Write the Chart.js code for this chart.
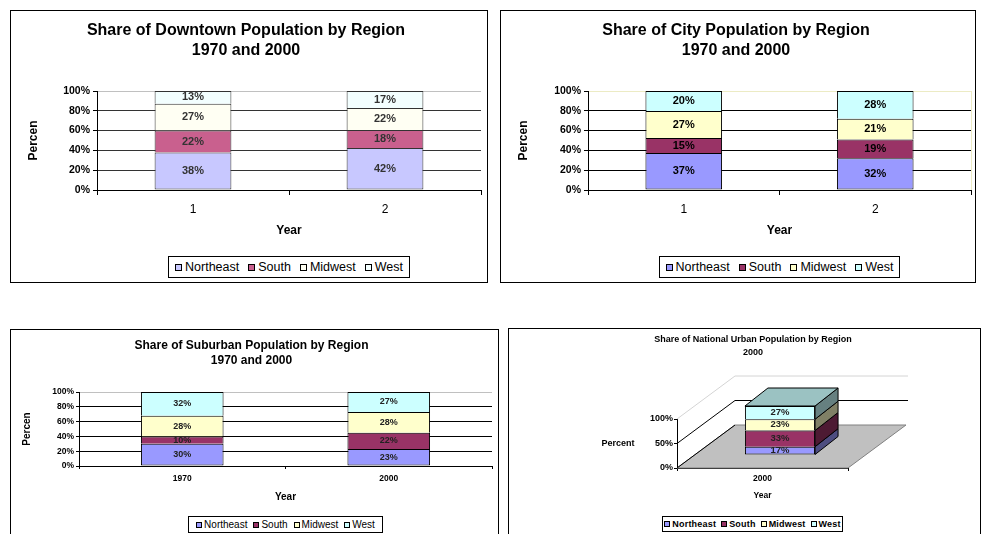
<!DOCTYPE html>
<html>
<head>
<meta charset="utf-8">
<script src="https://cdn.jsdelivr.net/npm/chart.js@4.4.0/dist/chart.umd.min.js"></script>
<style>
body{margin:0;background:#fff;width:983px;height:534px;overflow:hidden;position:relative;font-family:'Liberation Sans',Arial,sans-serif}
.box{position:absolute;border:1px solid #000;background:#fff;overflow:hidden}
.box canvas{position:absolute;left:0;top:0}
.legend{position:absolute;border:1px solid #000;display:flex;align-items:center;justify-content:center;white-space:nowrap;box-sizing:border-box;color:#000;background:#fff}
.legend i{display:inline-block;border:1px solid #000;box-sizing:border-box}
</style>
</head>
<body>
<div class="box" id="b1" style="left:10px;top:10px;width:476px;height:271px"><canvas id="c1" width="476" height="271"></canvas></div>
<div class="box" id="b2" style="left:500px;top:10px;width:474px;height:271px"><canvas id="c2" width="474" height="271"></canvas></div>
<div class="box" id="b3" style="left:10px;top:329px;width:487px;height:213px"><canvas id="c3" width="487" height="213"></canvas></div>
<div class="box" id="b4" style="left:508px;top:328px;width:471px;height:213px"><canvas id="c4" width="471" height="213"></canvas></div>
<script>
const regions = ["Northeast", "South", "Midwest", "West"];

const downtownYears = ["1", "2"];
const downtownNortheast = [38, 42];
const downtownSouth = [22, 18];
const downtownMidwest = [27, 22];
const downtownWest = [13, 17];

const cityYears = ["1", "2"];
const cityNortheast = [37, 32];
const citySouth = [15, 19];
const cityMidwest = [27, 21];
const cityWest = [20, 28];

const suburbYears = ["1970", "2000"];
const suburbNortheast = [30, 23];
const suburbSouth = [10, 22];
const suburbMidwest = [28, 28];
const suburbWest = [32, 27];

const urbanYears = ["2000"];
const urbanNortheast = [17];
const urbanSouth = [33];
const urbanMidwest = [23];
const urbanWest = [27];

const paleColors = ["#C8C8FF", "#C9608E", "#FFFFF3", "#F3FFFF"];
const excelColors = ["#9999FF", "#993366", "#FFFFCC", "#CCFFFF"];

const FONT = "'Liberation Sans', Arial, sans-serif";
Chart.defaults.font.family = FONT;
Chart.defaults.color = "#000";
Chart.defaults.animation = false;

function fnt(size, bold, lh) {
  const o = {family: FONT, size: size, weight: bold ? "bold" : "normal"};
  if (lh) o.lineHeight = lh;
  return o;
}

function shade(hex, k) {
  const n = parseInt(hex.slice(1), 16);
  return "rgb(" + Math.round((n >> 16 & 255) * k) + "," + Math.round((n >> 8 & 255) * k) + "," + Math.round((n & 255) * k) + ")";
}

function buildDatasets(series, colors, edge, barPct) {
  const totals = series[0].map((_, j) => series.reduce((s, arr) => s + arr[j], 0));
  return series.map((arr, i) => ({
    label: regions[i],
    data: arr.map((v, j) => v / totals[j] * 100),
    rawValues: arr,
    backgroundColor: colors[i],
    borderColor: edge,
    borderWidth: {top: 1, left: 1, right: 1, bottom: i === 0 ? 1 : 0},
    borderSkipped: false,
    inflateAmount: 0,
    barPercentage: barPct,
    categoryPercentage: 1,
    clip: false
  }));
}

// text in the middle of each stacked piece
function labelPlugin(font, color, sx, sy) {
  return {
    id: "barLabels",
    afterDatasetsDraw(chart) {
      const ctx = chart.ctx;
      ctx.save();
      ctx.font = font;
      ctx.fillStyle = color;
      ctx.textAlign = "center";
      ctx.textBaseline = "middle";
      chart.data.datasets.forEach((ds, i) => {
        chart.getDatasetMeta(i).data.forEach((bar, j) => {
          const p = bar.getProps(["x", "y", "base"], true);
          ctx.fillText(ds.rawValues[j] + "%", p.x + sx, (p.y + p.base) / 2 + sy);
        });
      });
      ctx.restore();
    }
  };
}

function edgePlugin(color) {
  return {
    id: "plotEdge",
    beforeDatasetsDraw(chart) {
      const {ctx, chartArea: a} = chart;
      ctx.save();
      ctx.strokeStyle = color;
      ctx.lineWidth = 1;
      ctx.beginPath();
      ctx.moveTo(Math.round(a.right) + 0.5, a.top);
      ctx.lineTo(Math.round(a.right) + 0.5, a.bottom);
      ctx.stroke();
      ctx.restore();
    }
  };
}

function flatChart(id, o) {
  const plugins = [labelPlugin(o.labelFont, o.labelColor, 0, 0)];
  if (o.edge) plugins.unshift(edgePlugin(o.edge));
  return new Chart(document.getElementById(id), {
    type: "bar",
    data: {labels: o.labels, datasets: buildDatasets(o.series, o.colors, o.barEdge, 0.4)},
    options: {
      responsive: false,
      layout: {padding: {left: 0, top: 0, right: o.padRight, bottom: o.padBottom}},
      plugins: {
        legend: {display: false},
        tooltip: {enabled: false},
        title: {display: true, text: o.title, font: o.titleFont, color: "#000", padding: o.titlePad}
      },
      scales: {
        x: {
          stacked: true,
          offset: true,
          grid: {offset: true, drawOnChartArea: false, drawTicks: true, tickLength: o.xTickLen, color: "#000"},
          border: {color: "#000"},
          ticks: {font: o.xTickFont, color: "#000", padding: o.xTickPad, maxRotation: 0},
          title: {display: true, text: "Year", font: o.xTitleFont, color: "#000", padding: 0},
          afterFit: s => { s.height = o.xHeight; }
        },
        y: {
          stacked: true,
          min: 0,
          max: 100,
          ticks: {stepSize: 20, callback: v => v + "%", font: o.yTickFont, color: "#000", padding: o.yTickPad},
          grid: {
            color: c => (c.tick && c.tick.value === 100) ? o.topGrid : o.grid,
            tickColor: "#000",
            tickLength: o.yTickLen
          },
          border: {color: "#000"},
          title: {display: true, text: "Percen", font: o.yTitleFont, color: "#000", padding: {top: o.yTitlePad, bottom: 0}},
          afterFit: s => { s.width = o.yWidth; }
        }
      }
    },
    plugins: plugins
  });
}

function buildLegend(boxId, pos, colors, st) {
  const el = document.createElement("div");
  el.className = "legend";
  el.style.left = pos[0] + "px";
  el.style.top = pos[1] + "px";
  el.style.width = pos[2] + "px";
  el.style.height = pos[3] + "px";
  el.style.font = st.font;
  if (st.spacing) el.style.letterSpacing = st.spacing;
  regions.forEach((name, i) => {
    const sw = document.createElement("i");
    sw.style.width = st.sw + "px";
    sw.style.height = st.sw + "px";
    sw.style.background = colors[i];
    sw.style.margin = "0 " + st.gap + "px 0 " + (i ? st.space : 0) + "px";
    el.appendChild(sw);
    const tx = document.createElement("span");
    tx.textContent = name;
    el.appendChild(tx);
  });
  document.getElementById(boxId).appendChild(el);
}

flatChart("c1", {
  labels: downtownYears,
  series: [downtownNortheast, downtownSouth, downtownMidwest, downtownWest],
  colors: paleColors, barEdge: "#333",
  title: ["Share of Downtown Population by Region", "1970 and 2000"],
  titleFont: fnt(16, true, 1.25), titlePad: {top: 10, bottom: 30},
  padRight: 6, padBottom: 44,
  xTickLen: 5, xTickPad: 7, xTickFont: fnt(12, false), xTitleFont: fnt(12, true), xHeight: 48,
  yTickFont: fnt(10.5, true), yTickPad: 3, yTickLen: 4, yTitleFont: fnt(12, true), yTitlePad: 15, yWidth: 86,
  grid: "#333", topGrid: "#c0c0c0",
  labelFont: "bold 11px " + FONT, labelColor: "#333"
});

flatChart("c2", {
  labels: cityYears,
  series: [cityNortheast, citySouth, cityMidwest, cityWest],
  colors: excelColors, barEdge: "#000",
  title: ["Share of City Population by Region", "1970 and 2000"],
  titleFont: fnt(16, true, 1.25), titlePad: {top: 10, bottom: 30},
  padRight: 4, padBottom: 44,
  xTickLen: 5, xTickPad: 7, xTickFont: fnt(12, false), xTitleFont: fnt(12, true), xHeight: 48,
  yTickFont: fnt(10.5, true), yTickPad: 3, yTickLen: 4, yTitleFont: fnt(12, true), yTitlePad: 15, yWidth: 87,
  grid: "#000", topGrid: "#ecebc4", edge: "#ecebc4",
  labelFont: "bold 11px " + FONT, labelColor: "#000"
});

flatChart("c3", {
  labels: suburbYears,
  series: [suburbNortheast, suburbSouth, suburbMidwest, suburbWest],
  colors: excelColors, barEdge: "#000",
  title: ["Share of Suburban Population by Region", "1970 and 2000"],
  titleFont: fnt(12, true, 1.25), titlePad: {top: 8.5, bottom: 23.5},
  padRight: 6, padBottom: 40,
  xTickLen: 3, xTickPad: 5, xTickFont: fnt(8.5, true), xTitleFont: fnt(10, true), xHeight: 37,
  yTickFont: fnt(8.5, true), yTickPad: 2, yTickLen: 3, yTitleFont: fnt(10, true), yTitlePad: 10, yWidth: 68,
  grid: "#000", topGrid: "#c0c0c0",
  labelFont: "bold 9px " + FONT, labelColor: "#222"
});

// 3D look for the national chart: floor, walls and box sides drawn around the library's bars
const cube = {dx: 58, dy: -43, sx: 17.5, sy: -13, bx: 23, by: -18};

const cubePlugin = {
  id: "cube",
  beforeDatasetsDraw(chart) {
    const {ctx, chartArea: a, scales: {y}} = chart;
    const y0 = y.getPixelForValue(0);
    ctx.save();
    ctx.lineWidth = 1;
    ctx.fillStyle = "#c0c0c0";
    ctx.strokeStyle = "#808080";
    ctx.beginPath();
    ctx.moveTo(a.left, y0);
    ctx.lineTo(a.right, y0);
    ctx.lineTo(a.right + cube.dx, y0 + cube.dy);
    ctx.lineTo(a.left + cube.dx, y0 + cube.dy);
    ctx.closePath();
    ctx.fill();
    ctx.stroke();
    y.ticks.forEach(t => {
      const p = y.getPixelForValue(t.value);
      ctx.strokeStyle = t.value === 100 ? "#d4d4d4" : "#000";
      ctx.beginPath();
      ctx.moveTo(a.left, p);
      ctx.lineTo(a.left + cube.dx, p + cube.dy);
      if (t.value > 0) ctx.lineTo(a.right + cube.dx + 2, p + cube.dy);
      ctx.stroke();
    });
    ctx.restore();
  },
  beforeDatasetDraw(chart) {
    chart.ctx.save();
    chart.ctx.translate(cube.sx, cube.sy);
  },
  afterDatasetDraw(chart) {
    chart.ctx.restore();
  },
  afterDatasetsDraw(chart) {
    const ctx = chart.ctx;
    const n = chart.data.datasets.length;
    const poly = (pts, fill) => {
      ctx.beginPath();
      pts.forEach((q, k) => k ? ctx.lineTo(q[0], q[1]) : ctx.moveTo(q[0], q[1]));
      ctx.closePath();
      ctx.fillStyle = fill;
      ctx.fill();
      ctx.stroke();
    };
    ctx.save();
    ctx.strokeStyle = "#000";
    ctx.lineWidth = 1;
    chart.data.datasets.forEach((ds, i) => {
      chart.getDatasetMeta(i).data.forEach(bar => {
        const p = bar.getProps(["x", "y", "base", "width"], true);
        const l = p.x - p.width / 2 + cube.sx, r = p.x + p.width / 2 + cube.sx;
        const t = Math.min(p.y, p.base) + cube.sy, b = Math.max(p.y, p.base) + cube.sy;
        poly([[r, b], [r, t], [r + cube.bx, t + cube.by], [r + cube.bx, b + cube.by]], shade(ds.backgroundColor, 0.5));
        if (i === n - 1) poly([[l, t], [r, t], [r + cube.bx, t + cube.by], [l + cube.bx, t + cube.by]], shade(ds.backgroundColor, 0.76));
      });
    });
    ctx.restore();
  },
  afterDraw(chart) {
    const {ctx, chartArea: a, scales: {y}} = chart;
    ctx.save();
    ctx.font = "bold 9px " + FONT;
    ctx.fillStyle = "#000";
    ctx.textAlign = "center";
    ctx.textBaseline = "middle";
    ctx.fillText("Percent", a.left - 59, y.getPixelForValue(50));
    ctx.restore();
  }
};

new Chart(document.getElementById("c4"), {
  type: "bar",
  data: {labels: urbanYears, datasets: buildDatasets([urbanNortheast, urbanSouth, urbanMidwest, urbanWest], excelColors, "#000", 0.41)},
  options: {
    responsive: false,
    layout: {padding: {left: 17, top: 0, right: 0, bottom: 41}},
    plugins: {
      legend: {display: false},
      tooltip: {enabled: false},
      title: {display: true, text: ["Share of National Urban Population by Region", "2000"], font: fnt(9, true, 13 / 9), color: "#000", padding: {top: 4.5, bottom: 59.5}}
    },
    scales: {
      x: {
        stacked: true,
        offset: true,
        grid: {offset: true, drawOnChartArea: false, tickLength: 3, color: "#000"},
        border: {color: "#000"},
        ticks: {font: fnt(8.5, true), color: "#000", padding: 3, maxRotation: 0},
        title: {display: true, text: "Year", font: fnt(8.5, true), color: "#000", padding: 0},
        afterFit: s => { s.height = 33; }
      },
      y: {
        stacked: true,
        min: 0,
        max: 100,
        ticks: {stepSize: 50, callback: v => v + "%", font: fnt(9, true), color: "#000", padding: 1},
        grid: {drawOnChartArea: false, tickLength: 3, color: "#000"},
        border: {color: "#000"},
        afterFit: s => { s.width = 151; }
      },
      side: {
        position: "right",
        display: true,
        grid: {display: false},
        border: {display: false},
        ticks: {display: false},
        afterFit: s => { s.width = 132; }
      }
    }
  },
  plugins: [cubePlugin, labelPlugin("bold 9.5px " + FONT, "#222", cube.sx, cube.sy)]
});

buildLegend("b1", [157, 245, 242, 22], paleColors, {font: "12.5px " + FONT, sw: 7, gap: 3, space: 9});
buildLegend("b2", [158, 245, 241, 22], excelColors, {font: "12.5px " + FONT, sw: 7, gap: 3, space: 9});
buildLegend("b3", [177, 186, 195, 17], excelColors, {font: "10px " + FONT, sw: 6, gap: 2, space: 6});
buildLegend("b4", [153, 187, 181, 16], excelColors, {font: "bold 9px " + FONT, sw: 6, gap: 2, space: 5, spacing: "0.2px"});
</script>
</body>
</html>
